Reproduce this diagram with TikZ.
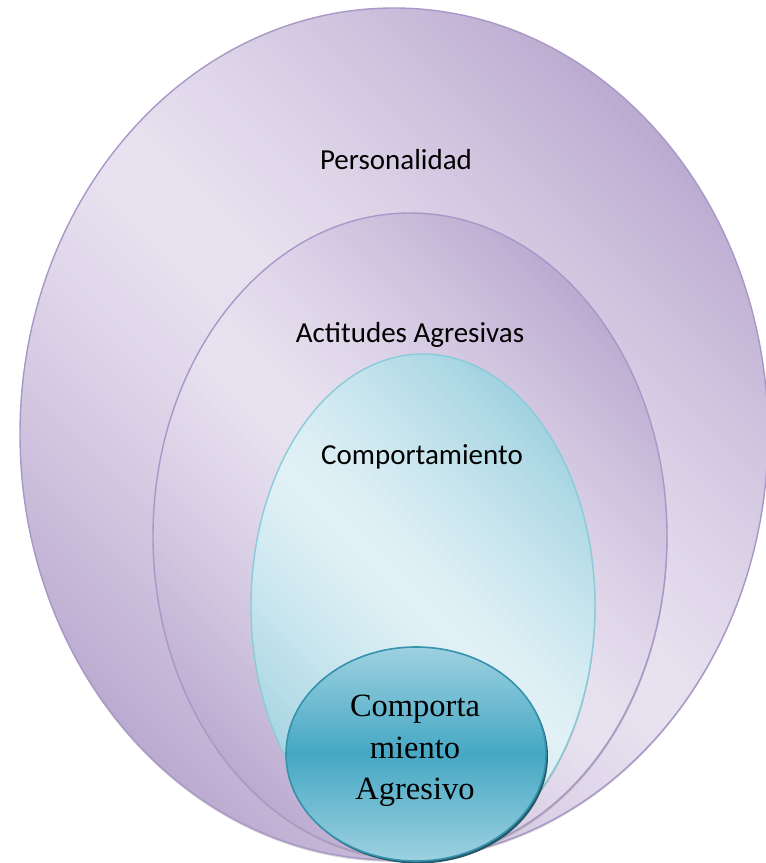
\documentclass[tikz,border=0pt]{standalone}
\usepackage{fontspec}
\setmainfont{Liberation Serif}
\newfontfamily\calib{Carlito}
\usetikzlibrary{shapes.geometric}
\definecolor{pBorder}{RGB}{168,152,200}
\definecolor{pLight}{RGB}{232,226,240}
\definecolor{pDark}{RGB}{187,170,208}
\definecolor{bBorder}{RGB}{136,204,218}
\definecolor{bLight}{RGB}{225,241,246}
\definecolor{bDark}{RGB}{160,210,224}
\definecolor{tBorder}{RGB}{52,146,172}
\definecolor{tLight}{RGB}{160,210,225}
\definecolor{tDark}{RGB}{70,168,196}
\definecolor{tShadow}{RGB}{38,88,104}
% banded gradient inside a path picture
% #1 half length along stacking axis u, #2 half length along band axis v,
% #3,#4 = u ; #5,#6 = v ; #7 edge colour ; #8 centre colour ; #9 exponent
\newcommand\bandfill[9]{%
  \begin{scope}[shift={(path picture bounding box.center)}]
    \foreach \i in {0,...,99}{%
      \pgfmathsetmacro\ta{-1+\i/50}%
      \pgfmathsetmacro\tb{-1+(\i+1.5)/50}%
      \pgfmathtruncatemacro\tm{(abs(-1+(\i+0.5)/50))^#9*100}%
      \fill[#7!\tm!#8]
        ({\ta*#1*#3-#2*#5},{\ta*#1*#4-#2*#6}) --
        ({\ta*#1*#3+#2*#5},{\ta*#1*#4+#2*#6}) --
        ({\tb*#1*#3+#2*#5},{\tb*#1*#4+#2*#6}) --
        ({\tb*#1*#3-#2*#5},{\tb*#1*#4-#2*#6}) -- cycle;
    }
  \end{scope}}
\tikzset{
  x=1pt, y=-1pt,
  ring/.style={ellipse, inner sep=0pt, outer sep=0pt, line width=1.4pt},
  purplering/.style={ring, draw=pBorder, path picture={\bandfill{#1}{#1}{0.7071}{-0.7071}{0.7071}{0.7071}{pDark}{pLight}{1.3}}},
  bluering/.style={ring, draw=bBorder, path picture={\bandfill{#1}{#1}{0.7071}{-0.7071}{0.7071}{0.7071}{bDark}{bLight}{1.3}}},
  tealring/.style={ring, draw=tBorder, line width=1.6pt, path picture={\bandfill{110}{140}{0}{1}{1}{0}{tLight}{tDark}{1}}},
  shadowring/.style={ring, draw=none, fill=#1},
  lbl/.style={font=\calib\fontsize{29}{34}\selectfont, anchor=base, inner sep=0pt},
  serlbl/.style={font=\fontsize{32.5}{41.5}\selectfont, align=center, inner sep=0pt}
}
\begin{document}
\begin{tikzpicture}
\clip (0,0) rectangle (766,863);
\fill[white] (0,0) rectangle (766,863);
% outer ellipse
\node[shadowring={black!18}, minimum width=748pt, minimum height=852pt] (e1s) at (394,435.8) {};
\node[purplering=402, minimum width=748pt, minimum height=852pt] (e1) at (394,434) {};
\node[lbl] (l1) at (396,169) {Personalidad};
% second ellipse
\node[shadowring={black!30}, minimum width=514pt, minimum height=646pt] (e2s) at (410.5,537.8) {};
\node[purplering=293, minimum width=514pt, minimum height=646pt] (e2) at (410,536) {};
\node[lbl] (l2) at (410,342) {Actitudes Agresivas};
% blue ellipse
\node[shadowring={black!30}, minimum width=344pt, minimum height=504pt] (e3s) at (423.5,607.8) {};
\node[bluering=217, minimum width=344pt, minimum height=504pt] (e3) at (423,606) {};
\node[lbl] (l3) at (422,464) {Comportamiento};
% teal ellipse
\node[shadowring=tShadow, minimum width=260pt, minimum height=214pt] (e4s) at (418,756.5) {};
\node[tealring, minimum width=260pt, minimum height=214pt] (e4) at (416,754) {};
\node[serlbl] (l4) at (415,751) {Comporta\\miento\\Agresivo};
\end{tikzpicture}
\end{document}
